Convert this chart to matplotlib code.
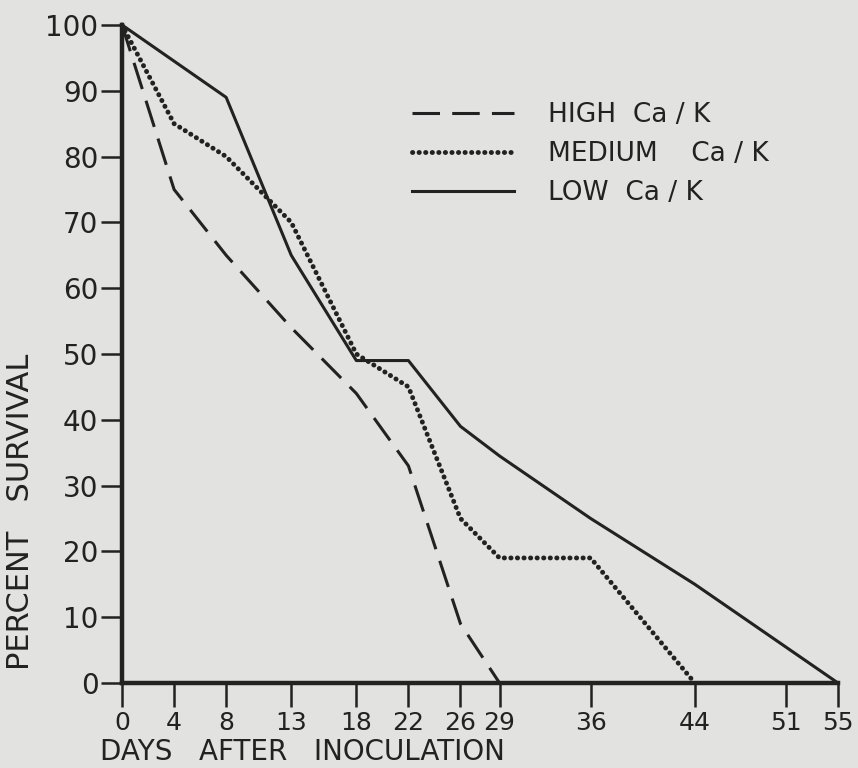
import numpy as np
import matplotlib.pyplot as plt

# dias apos a inoculacao
dias = [0, 4, 8, 13, 18, 22, 26, 29, 36, 44, 51, 55]

# sobrevivencia (%)
alto_dias = [0, 4, 8, 13, 18, 22, 26, 29]
alto = [100, 75, 65, 54, 44, 33, 9, 0]

medio_dias = [0, 4, 8, 13, 18, 22, 26, 29, 36, 44]
medio = [100, 85, 80, 70, 50, 45, 25, 19, 19, 0]

baixo_dias = [0, 8, 13, 18, 22, 26, 29, 36, 44, 55]
baixo = [100, 89, 65, 49, 49, 39, 34.5, 25, 15, 0]

y_ticks = [0, 10, 20, 30, 40, 50, 60, 70, 80, 90, 100]

papel = '#e2e2e0'
tinta = '#222222'

plt.rcParams['font.family'] = ['DejaVu Sans']

fig = plt.figure(figsize=(8.58, 7.68), dpi=100, facecolor=papel)
ax = fig.add_axes([0.1422, 0.1107, 0.8345, 0.8568])
ax.set_facecolor(papel)

ax.plot(alto_dias, alto, color=tinta, lw=2.2, linestyle=(0, (9, 4)),
        label='HIGH  Ca / K', clip_on=False)
ax.plot(medio_dias, medio, color=tinta, lw=3.5, linestyle=(0, (0.05, 1.3)),
        dash_capstyle='round', label='MEDIUM    Ca / K', clip_on=False)
ax.plot(baixo_dias, baixo, color=tinta, lw=2.2, linestyle='-',
        label='LOW  Ca / K', clip_on=False)

ax.set_xlim(0, 55)
ax.set_ylim(0, 100)
ax.set_xticks(dias)
ax.set_xticklabels([str(d) for d in dias])
ax.set_yticks(y_ticks)
ax.set_yticklabels([str(v) for v in y_ticks])

for s in ['top', 'right']:
    ax.spines[s].set_visible(False)
for s in ['left', 'bottom']:
    ax.spines[s].set_linewidth(3.2)
    ax.spines[s].set_color(tinta)

ax.tick_params(axis='x', direction='out', length=17, width=1.8, colors=tinta,
               labelsize=18, pad=3)
ax.tick_params(axis='y', direction='out', length=15, width=1.8, colors=tinta,
               labelsize=20, pad=2)

fig.text(0.117, 0.002, 'DAYS   AFTER   INOCULATION', fontsize=20, color=tinta,
         ha='left', va='bottom')
fig.text(0.024, 0.333, 'PERCENT   SURVIVAL', fontsize=22, color=tinta,
         rotation=90, ha='center', va='center')

leg = ax.legend(loc='upper left', bbox_to_anchor=(0.405, 0.883), frameon=False,
                borderpad=0, borderaxespad=0,
                handlelength=3.85, handletextpad=1.3, labelspacing=0.5,
                fontsize=19)
for t in leg.get_texts():
    t.set_color(tinta)

fig.savefig('out.png', dpi=100, facecolor=papel)
